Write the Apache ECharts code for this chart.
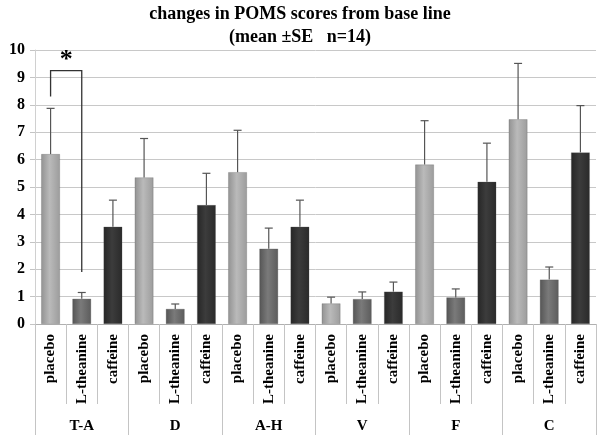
<!DOCTYPE html>
<html>
<head>
<meta charset="utf-8">
<script src="https://cdn.jsdelivr.net/npm/echarts@6/dist/echarts.min.js"></script>
<style>
html,body{margin:0;padding:0;background:#fff;}
#chart{width:600px;height:435px;}
</style>
</head>
<body>
<div id="chart"></div>
<script>
var groups = ['T-A', 'D', 'A-H', 'V', 'F', 'C'];
var drugs = ['placebo', 'L-theanine', 'caffeine'];
var placeboMean = [6.20, 5.35, 5.54, 0.75, 5.82, 7.47];
var placeboSE   = [1.67, 1.42, 1.53, 0.23, 1.60, 2.04];
var theanineMean = [0.92, 0.55, 2.75, 0.91, 0.97, 1.62];
var theanineSE   = [0.23, 0.18, 0.75, 0.26, 0.31, 0.46];
var caffeineMean = [3.55, 4.34, 3.55, 1.18, 5.19, 6.26];
var caffeineSE   = [0.97, 1.16, 0.97, 0.35, 1.41, 1.71];
var yTicks = [0, 1, 2, 3, 4, 5, 6, 7, 8, 9, 10];
// significance bracket between T-A placebo (index 0) and T-A L-theanine (index 1)
var bracketLeftStart = 8.3, bracketTop = 9.25, bracketRightEnd = 1.9, starLevel = 9.62;

var means = [placeboMean, theanineMean, caffeineMean];
var ses = [placeboSE, theanineSE, caffeineSE];

function grad(c1, c2, c3) {
  return new echarts.graphic.LinearGradient(0, 0, 1, 0, [
    {offset: 0, color: c1}, {offset: 0.45, color: c2}, {offset: 1, color: c3}
  ]);
}
var fills = [
  grad('#929292', '#bababa', '#9c9c9c'),
  grad('#555555', '#7a7a7a', '#5c5c5c'),
  grad('#262626', '#3c3c3c', '#2a2a2a')
];

var cats = [], barData = [], errData = [];
groups.forEach(function (g, gi) {
  drugs.forEach(function (d, di) {
    var idx = cats.length;
    cats.push(d);
    barData.push({value: means[di][gi], itemStyle: {color: fills[di], borderColor: 'rgba(80,80,80,0.5)', borderWidth: 0.5}});
    errData.push([idx, means[di][gi], means[di][gi] + ses[di][gi]]);
  });
});

var font = '"Liberation Serif", "Times New Roman", serif';
var chart = echarts.init(document.getElementById('chart'));
chart.setOption({
  animation: false,
  backgroundColor: '#fff',
  title: {
    text: 'changes in POMS scores from base line\n(mean \u00b1SE   n=14)',
    left: 'center', top: -2,
    textStyle: {fontFamily: font, fontWeight: 'bold', fontSize: 18, color: '#000', lineHeight: 23}
  },
  grid: {left: 35, right: 4, top: 50, bottom: 111},
  xAxis: [{
    type: 'category', data: cats, position: 'bottom',
    axisLine: {lineStyle: {color: '#b0b0b0', width: 1}},
    axisTick: {show: true, length: 80, lineStyle: {color: '#c4c4c4'}},
    axisLabel: {rotate: 90, interval: 0, margin: 10, fontFamily: font, fontWeight: 'bold', fontSize: 15, color: '#000'}
  }, {
    type: 'category', data: groups, position: 'bottom',
    axisLine: {show: false},
    axisTick: {show: true, length: 115, lineStyle: {color: '#c4c4c4'}},
    axisLabel: {interval: 0, margin: 95, fontFamily: font, fontWeight: 'bold', fontSize: 15, color: '#000'}
  }],
  yAxis: {
    type: 'value', min: 0, max: 10, interval: 1,
    axisLine: {show: true, lineStyle: {color: '#d0d0d0'}},
    axisTick: {show: true, length: 5, lineStyle: {color: '#c4c4c4'}},
    splitLine: {lineStyle: {color: '#c8c8c8'}},
    axisLabel: {margin: 10, fontFamily: font, fontWeight: 'bold', fontSize: 16, color: '#000',
      formatter: function (v) { return yTicks.indexOf(v) >= 0 ? String(v) : ''; }}
  },
  series: [{
    type: 'bar', xAxisIndex: 0, data: barData, barWidth: '60%'
  }, {
    type: 'custom', xAxisIndex: 0, data: errData, z: 5,
    renderItem: function (params, api) {
      var p0 = api.coord([api.value(0), api.value(1)]);
      var p1 = api.coord([api.value(0), api.value(2)]);
      var hw = 4;
      var st = {stroke: '#555', lineWidth: 1.2};
      return {type: 'group', children: [
        {type: 'line', shape: {x1: p0[0], y1: p0[1], x2: p1[0], y2: p1[1]}, style: st},
        {type: 'line', shape: {x1: p1[0] - hw, y1: p1[1], x2: p1[0] + hw, y2: p1[1]}, style: st}
      ]};
    }
  }, {
    type: 'custom', xAxisIndex: 0, data: [[0, 1]], z: 6,
    renderItem: function (params, api) {
      var a = api.coord([0, bracketLeftStart]);
      var b = api.coord([0, bracketTop]);
      var c = api.coord([1, bracketTop]);
      var d = api.coord([1, bracketRightEnd]);
      var s = api.coord([0, starLevel]);
      return {type: 'group', children: [
        {type: 'polyline', shape: {points: [a, b, c, d]}, style: {stroke: '#333', lineWidth: 1.3, fill: null}},
        {type: 'text', style: {text: '*', x: (b[0] + c[0]) / 2, y: s[1], align: 'center', verticalAlign: 'middle',
          font: 'bold 26px ' + font, fill: '#000'}}
      ]};
    }
  }]
});
</script>
</body>
</html>
